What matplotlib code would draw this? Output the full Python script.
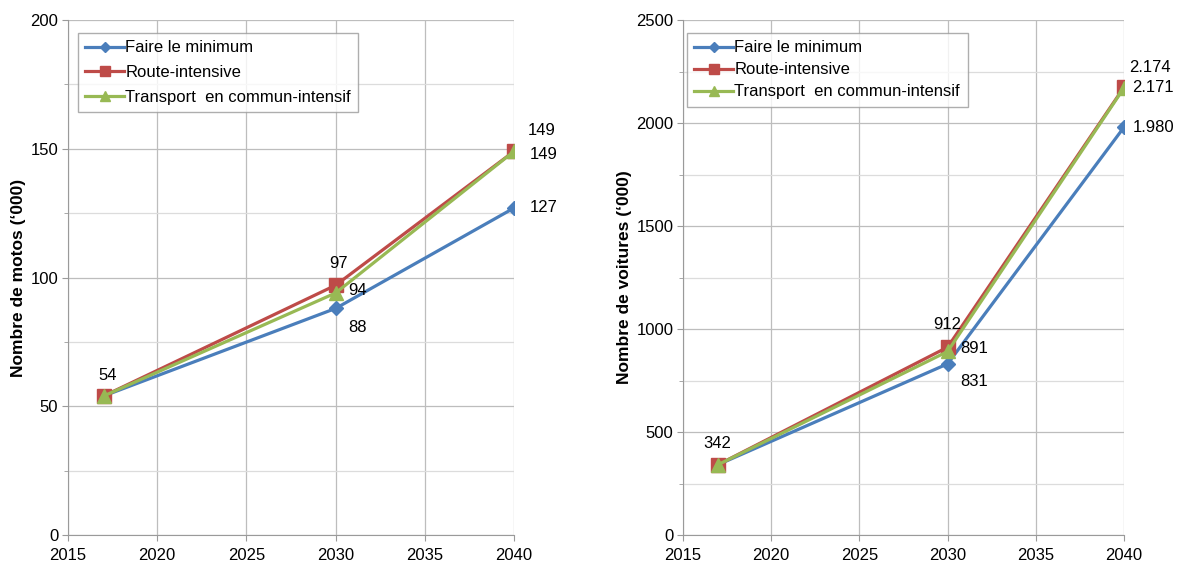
import matplotlib.pyplot as plt
from matplotlib.ticker import MultipleLocator

plt.rcParams['font.family'] = ['Liberation Sans', 'DejaVu Sans']

years = [2017, 2030, 2040]
series_names = ["Faire le minimum", "Route-intensive", "Transport  en commun-intensif"]

motos_min = [54, 88, 127]
motos_route = [54, 97, 149]
motos_tc = [54, 94, 149]

voitures_min = [342, 831, 1980]
voitures_route = [342, 912, 2174]
voitures_tc = [342, 891, 2171]

colors = ["#4a7ebb", "#be4b48", "#98b954"]
markers = ["D", "s", "^"]
msizes = [7, 10, 10]


def fmt_fr(v):
    return f"{v:,}".replace(",", ".")


def draw(ax, data, ymax, ystep, ylabel, labels, leg_x, leg_pad, leg_space):
    for vals, name, c, m, ms in zip(data, series_names, colors, markers, msizes):
        ax.plot(years, vals, color=c, marker=m, markersize=ms, lw=2.3, label=name)
    ax.set_xlim(2015, 2040)
    ax.set_ylim(0, ymax)
    ax.xaxis.set_major_locator(MultipleLocator(5))
    ax.yaxis.set_major_locator(MultipleLocator(ystep))
    ax.yaxis.set_minor_locator(MultipleLocator(ystep / 2))
    ax.grid(which="major", color="#bdbdbd", lw=0.9)
    ax.grid(which="minor", axis="y", color="#dcdcdc", lw=0.9)
    for s in ["top", "right"]:
        ax.spines[s].set_visible(False)
    for s in ["left", "bottom"]:
        ax.spines[s].set_color("#9a9a9a")
    ax.tick_params(which="both", length=4, color="#9a9a9a", labelsize=12)
    ax.tick_params(axis="x", pad=5)
    ax.tick_params(axis="y", pad=3)
    ax.tick_params(which="minor", length=3)
    ax.set_ylabel(ylabel, fontsize=12.5, fontweight="bold", labelpad=3)
    ax.set_axisbelow(True)
    # étiquettes des valeurs
    for (si, xi, dx, dy, ha) in labels:
        v = data[si][xi]
        ax.annotate(fmt_fr(v), (years[xi], v), xytext=(dx, dy), textcoords="offset points",
                    fontsize=12, ha=ha, va="center", annotation_clip=False)
    ax.legend(loc="upper left", bbox_to_anchor=(leg_x, 0.975), borderaxespad=0,
              fontsize=12, frameon=True, fancybox=False, edgecolor="#9a9a9a",
              borderpad=leg_pad, labelspacing=leg_space,
              handlelength=2.3, handletextpad=0.1, markerscale=0.75)


fig = plt.figure(figsize=(11.79, 5.62), dpi=100)
ax1 = fig.add_axes([0.0577, 0.048, 0.3783, 0.9164])
ax2 = fig.add_axes([0.5793, 0.048, 0.3741, 0.9164])

draw(ax1, [motos_min, motos_route, motos_tc], 200, 50, "Nombre de motos (‘000)",
     [(0, 0, 3, 15, "center"), (1, 1, 2, 16, "center"), (2, 1, 9, 2, "left"),
      (0, 1, 9, -14, "left"), (1, 2, 10, 15, "left"), (2, 2, 11, -2, "left"),
      (0, 2, 11, 0, "left")],
     0.022, 0.45, 0.58)
draw(ax2, [voitures_min, voitures_route, voitures_tc], 2500, 500, "Nombre de voitures (‘000)",
     [(0, 0, -1, 15, "center"), (1, 1, 0, 16, "center"), (2, 1, 9, 2, "left"),
      (0, 1, 9, -13, "left"), (1, 2, 4, 14, "left"), (2, 2, 6, 0, "left"),
      (0, 2, 6, 0, "left")],
     0.009, 0.45, 0.42)

fig.savefig("out.png", dpi=100)
